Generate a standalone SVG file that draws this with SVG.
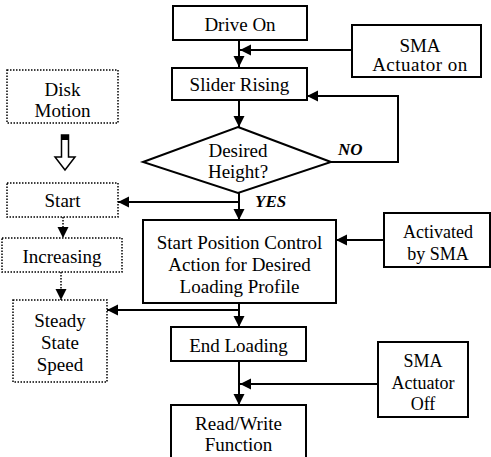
<svg xmlns="http://www.w3.org/2000/svg" width="491" height="457" viewBox="0 0 491 457">
<style>
.box{fill:#fff;stroke:#000;stroke-width:2}
.dot{fill:#fff;stroke:#000;stroke-width:1.5;stroke-dasharray:1.5 1.5}
.t{font-family:"Liberation Serif","Times New Roman",serif;font-size:19px;fill:#000;text-anchor:middle}
.s{font-size:18px}
.lbl{font-family:"Liberation Serif","Times New Roman",serif;font-size:17px;font-weight:bold;font-style:italic;fill:#000}
.ln{fill:none;stroke:#000;stroke-width:2}
.dl{fill:none;stroke:#000;stroke-width:1.5;stroke-dasharray:1.5 1.5}
</style>
<defs>
<marker id="ah" markerUnits="userSpaceOnUse" markerWidth="12" markerHeight="12" refX="11" refY="5.5" orient="auto">
<path d="M0,0 L11,5.5 L0,11 z" fill="#000"/>
</marker>
</defs>
<rect width="491" height="457" fill="#fff"/>
<g id="connectors">
<path class="ln" d="M239,40 V67" marker-end="url(#ah)"/>
<path class="ln" d="M352,50 H240" marker-end="url(#ah)"/>
<path class="ln" d="M239,100 V127" marker-end="url(#ah)"/>
<path class="ln" d="M331,162 H398 V96 H307" marker-end="url(#ah)"/>
<path class="ln" d="M239,193 V220" marker-end="url(#ah)"/>
<path class="ln" d="M239,202 H118" marker-end="url(#ah)"/>
<path class="ln" d="M384,240 H336" marker-end="url(#ah)"/>
<path class="ln" d="M239,303 V327" marker-end="url(#ah)"/>
<path class="ln" d="M239,310 H107" marker-end="url(#ah)"/>
<path class="ln" d="M239,361 V405" marker-end="url(#ah)"/>
<path class="ln" d="M378,384 H240" marker-end="url(#ah)"/>
<path class="dl" d="M63,217 V238" marker-end="url(#ah)"/>
<path class="dl" d="M61,272 V300" marker-end="url(#ah)"/>
<path d="M61.5,135 H68.5 V157 H75 L65,170 L55,157 H61.5 Z" fill="#fff" stroke="#000" stroke-width="1.5"/>
<rect x="61.5" y="135" width="7" height="5" fill="#000"/>
<text class="lbl" x="338" y="155">NO</text>
<text class="lbl" x="255" y="207">YES</text>
</g>
<g id="drive-on">
<rect class="box" x="173" y="6" width="134" height="34"/>
<text class="t" x="240" y="31">Drive On</text>
</g>
<g id="sma-on">
<rect class="box" x="352" y="25" width="129" height="52"/>
<text class="t" x="420" y="52">SMA</text>
<text class="t" x="420" y="71" style="letter-spacing:0.5px">Actuator on</text>
</g>
<g id="slider-rising">
<rect class="box" x="172" y="68" width="135" height="32"/>
<text class="t" x="239.5" y="91">Slider Rising</text>
</g>
<g id="desired-height">
<path class="box" d="M238,127 L331,162 L238,193 L143,162 Z"/>
<text class="t" x="238" y="157">Desired</text>
<text class="t" x="238" y="178">Height?</text>
</g>
<g id="disk-motion">
<rect class="dot" x="7" y="70" width="111" height="53"/>
<text class="t" x="62.5" y="96">Disk</text>
<text class="t" x="62.5" y="117">Motion</text>
</g>
<g id="start">
<rect class="dot" x="7" y="183" width="111" height="34"/>
<text class="t" x="62.5" y="207">Start</text>
</g>
<g id="increasing">
<rect class="dot" x="2" y="238" width="120" height="34"/>
<text class="t" x="62" y="263">Increasing</text>
</g>
<g id="steady-state">
<rect class="dot" x="13" y="300" width="94" height="82"/>
<text class="t" x="60" y="327">Steady</text>
<text class="t" x="60" y="349">State</text>
<text class="t" x="60" y="371">Speed</text>
</g>
<g id="start-position">
<rect class="box" x="143" y="220" width="193" height="83"/>
<text class="t" x="239.5" y="249">Start Position Control</text>
<text class="t" x="239.5" y="271">Action for Desired</text>
<text class="t" x="239.5" y="293">Loading Profile</text>
</g>
<g id="activated-by-sma">
<rect class="box" x="384" y="213" width="106" height="54"/>
<text class="t s" x="438" y="238">Activated</text>
<text class="t s" x="438" y="260">by SMA</text>
</g>
<g id="end-loading">
<rect class="box" x="171" y="327" width="135" height="34"/>
<text class="t" x="238.5" y="352">End Loading</text>
</g>
<g id="sma-off">
<rect class="box" x="378" y="342" width="90" height="75"/>
<text class="t s" x="423" y="367">SMA</text>
<text class="t s" x="423" y="389">Actuator</text>
<text class="t s" x="423" y="410">Off</text>
</g>
<g id="read-write">
<rect class="box" x="171" y="405" width="135" height="53"/>
<text class="t" x="238.5" y="430">Read/Write</text>
<text class="t" x="238.5" y="451">Function</text>
</g>
</svg>
